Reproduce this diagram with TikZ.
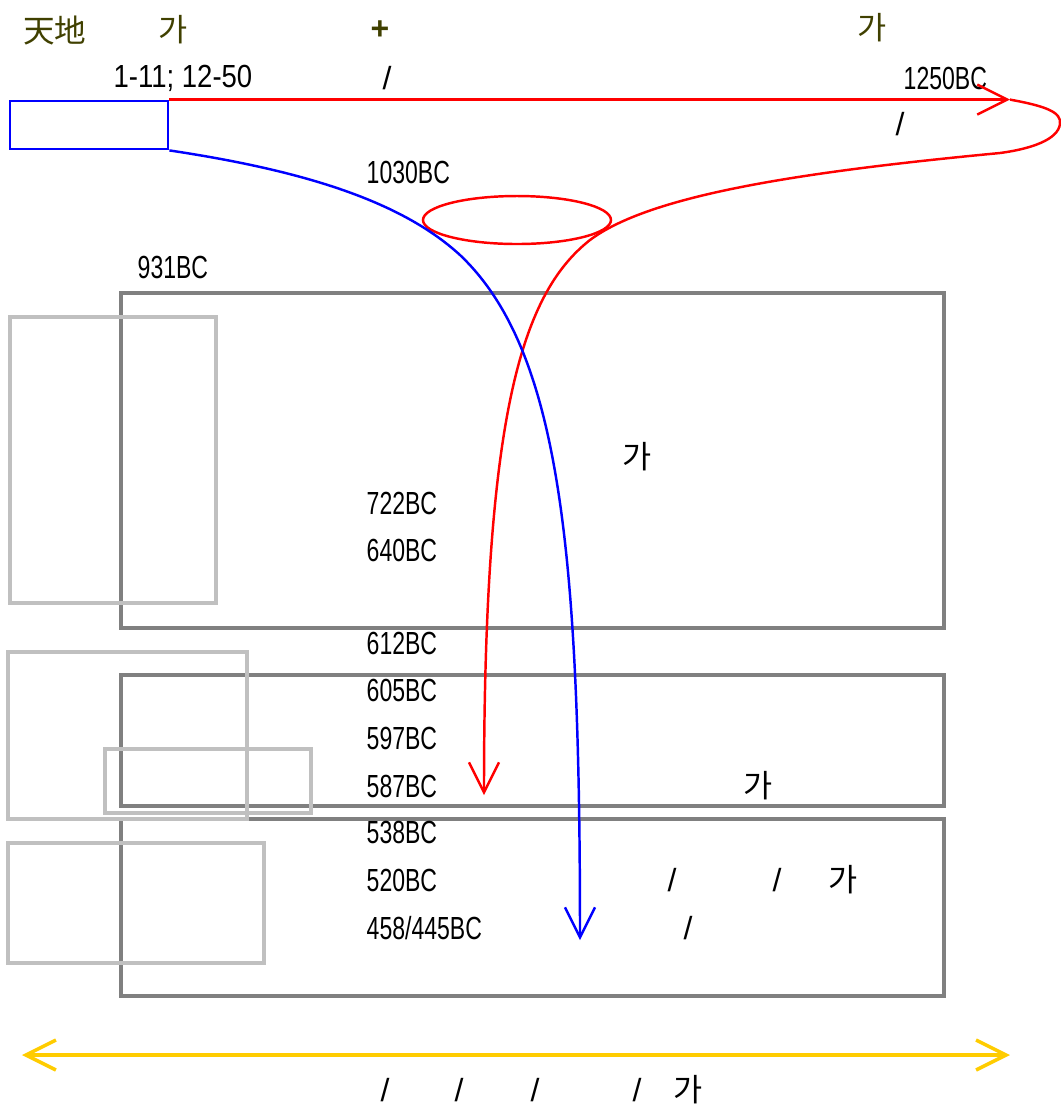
\documentclass[tikz,border=0pt]{standalone}
\usepackage{fontspec}
\setmainfont{Liberation Sans}
\newfontfamily\datefont[FakeStretch=0.72]{Liberation Sans}
\newfontfamily\rangefont[FakeStretch=0.86]{Liberation Sans}
\newfontfamily\korfont{Noto Sans CJK KR}
\usepackage{xcolor}
\usepackage{tikz}
\usetikzlibrary{arrows.meta, shapes.geometric}
\definecolor{olivetext}{RGB}{64,64,0}
\definecolor{timegold}{RGB}{255,204,0}
\definecolor{eragray}{RGB}{128,128,128}
\definecolor{sidegray}{RGB}{192,192,192}

\begin{document}
\begin{tikzpicture}[x=0.1mm, y=-0.1mm, every node/.style={inner sep=0pt, font=\fontsize{9.1}{11}\selectfont},
    datelabel/.style={anchor=west, font=\datefont\fontsize{9.1}{11}\selectfont},
    kor/.style={font=\korfont\fontsize{9}{11}\selectfont},
    headline/.style={text=olivetext, font=\korfont\fontsize{9}{11}\selectfont},
    erabox/.style={draw=eragray, line width=0.9pt, minimum width=82.3mm},
    sidebox/.style={draw=sidegray, line width=0.9pt},
    barb/.style={-{Straight Barb[length=3mm,width=3mm]}}]
    \useasboundingbox (0,0) rectangle (1061,1109);
    \node[erabox,minimum height=33.5mm] (E1) at (532.5,460.5) {};
    \node[erabox,minimum height=13.1mm] (E2) at (532.5,740.5) {};
    \node[erabox,minimum height=17.7mm] (E3) at (532.5,907.5) {};
    \node[sidebox,minimum width=20.6mm,minimum height=28.6mm] (S1) at (113,460) {};
    \node[sidebox,minimum width=23.9mm,minimum height=16.7mm] (S2) at (127.5,735.5) {};
    \node[sidebox,minimum width=20.6mm,minimum height=6.4mm] (S3) at (208,781) {};
    \node[sidebox,minimum width=25.6mm,minimum height=12mm] (S4) at (136,903) {};
    \node[draw=blue,line width=0.8pt,minimum width=15.8mm,minimum height=4.8mm] (G) at (89,125) {};
    \node[draw=red,ellipse,line width=0.7pt,minimum width=18.8mm,minimum height=4.8mm] (K) at (517,220) {};
    \coordinate (tl) at (22,1055);
    \coordinate (tr) at (1010,1055);
    \coordinate (turn) at (G.north east -| tr);
    \coordinate (redend) at (484,795);
    \coordinate (blueend) at (580,940);

    \node[headline] (H1) at (55,30) {天地};
    \node[headline] (H2) at (173,30) {가};
    \node[text=olivetext,font=\bfseries\fontsize{9.1}{11}\selectfont] (H3) at (380,30) {+};
    \node[headline] (H4) at (872,28) {가};
    \node[font=\rangefont\fontsize{9.1}{11}\selectfont] (R) at (183,78) {1-11; 12-50};
    \node (s1) at (387,78) {/};
    \node[datelabel] (d1250) at (903,78) {1250BC};
    \node (s2) at (900,124) {/};
    \node[datelabel] (d1030) at (366,172) {1030BC};
    \node[datelabel] (d931) at (137,267) {931BC};
    \node[kor] (k1) at (637,457) {가};
    \node[datelabel] (d722) at (366,503) {722BC};
    \node[datelabel] (d640) at (366,550) {640BC};
    \node[datelabel] (d612) at (366,643) {612BC};
    \node[datelabel] (d605) at (366,690) {605BC};
    \node[datelabel] (d597) at (366,738) {597BC};
    \node[datelabel] (d587) at (366,786) {587BC};
    \node[kor] (k2) at (758,786) {가};
    \node[datelabel] (d538) at (366,832) {538BC};
    \node[datelabel] (d520) at (366,880) {520BC};
    \node (s3) at (672,880) {/};
    \node (s4) at (777,880) {/};
    \node[kor] (k3) at (843,880) {가};
    \node[datelabel] (d458) at (366,928) {458/445BC};
    \node (s5) at (688,928) {/};
    \node (b1) at (385,1090) {/};
    \node (b2) at (459,1090) {/};
    \node (b3) at (535,1090) {/};
    \node (b4) at (637,1090) {/};
    \node[kor] (k4) at (688,1090) {가};

    \draw[red,line width=0.7pt,barb] (G.north east) -- (turn);
    \draw[red,line width=0.7pt,barb] (turn) .. controls (1045,106) and (1062,112) .. (1060,124)
        .. controls (1058,140) and (1030,149) .. (1000,153)
        .. controls (800,172) and (650,195) .. (590,240)
        .. controls (520,295) and (484,420) .. (redend);
    \draw[blue,line width=0.7pt,barb] (G.south east) .. controls (300,170) and (400,200) .. (460,255)
        .. controls (560,350) and (580,550) .. (blueend);
    \draw[timegold,line width=1pt,{Straight Barb[length=3mm,width=3mm]}-{Straight Barb[length=3mm,width=3mm]}] (tl) -- (tr);
\end{tikzpicture}
\end{document}
